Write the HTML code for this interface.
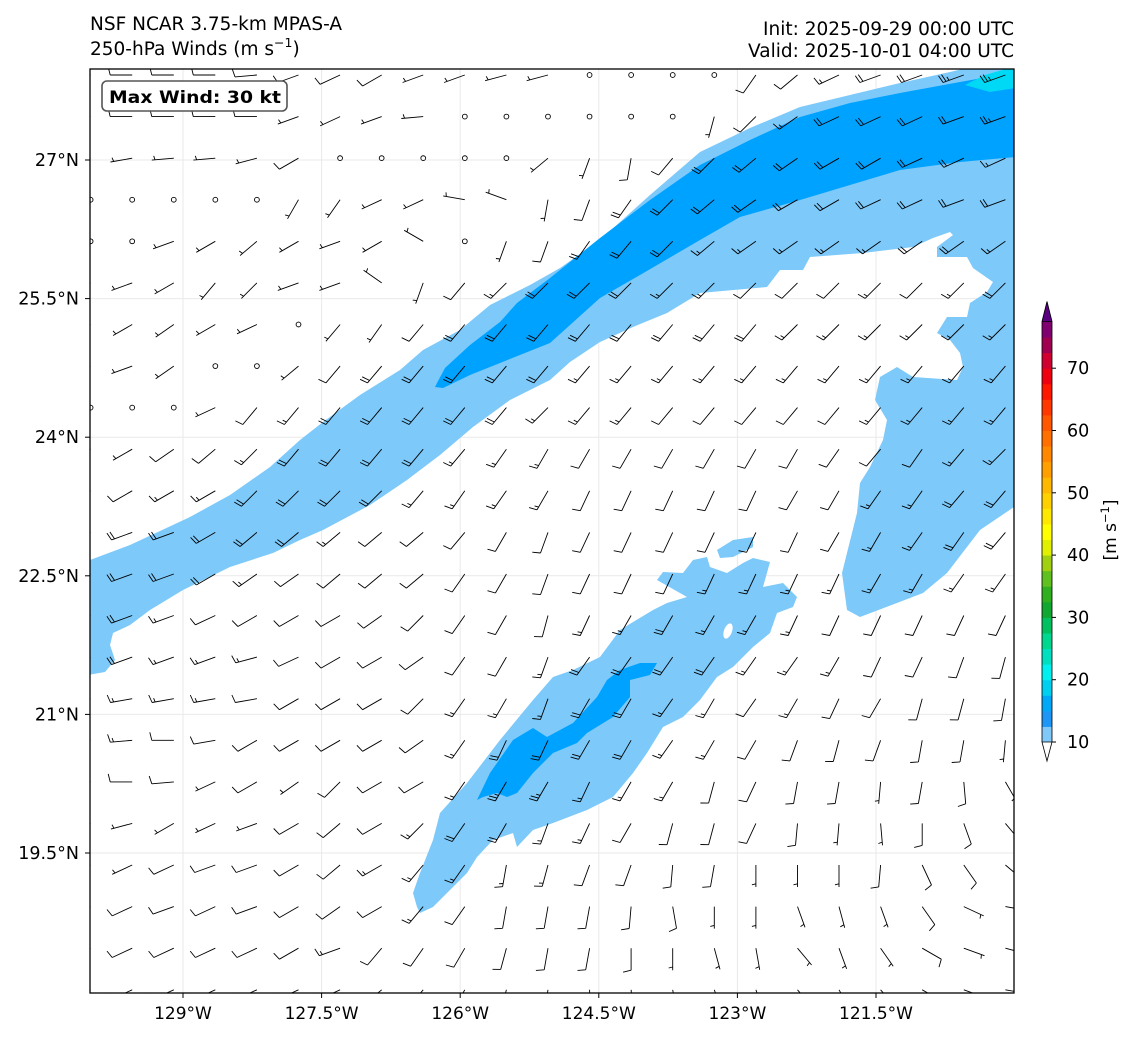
<!DOCTYPE html>
<html><head><meta charset="utf-8"><style>
html,body{margin:0;padding:0;background:#fff}
svg{display:block;font-family:"DejaVu Sans","Liberation Sans",sans-serif}
</style></head><body>
<svg id="fig" width="1137" height="1037" viewBox="0 0 1137 1037" xmlns="http://www.w3.org/2000/svg">
<defs><clipPath id="axclip"><rect x="90" y="69" width="924" height="924"/></clipPath></defs>
<rect x="0" y="0" width="1137" height="1037" fill="#fff"/>
<text x="90" y="30" font-size="18.5" fill="#000">NSF NCAR 3.75-km MPAS-A</text>
<text x="90" y="55" font-size="18.5" fill="#000">250-hPa Winds (m s<tspan font-size="12.5" dy="-8">−1</tspan><tspan dy="8">)</tspan></text>
<text x="1014" y="35" font-size="18.5" text-anchor="end">Init: 2025-09-29 00:00 UTC</text>
<text x="1014" y="57" font-size="18.5" text-anchor="end">Valid: 2025-10-01 04:00 UTC</text>
<g id="plot" clip-path="url(#axclip)">
 <g id="grid"></g>
 <path fill="#7cc9fa" d="M90,560 L130,545 L190,517 L230,495 L270,467 L300,440 L323,422 L360,395 L400,370 L423,350 L460,330 L490,305 L530,285 L560,268 L600,240 L650,195 L700,152 L750,128 L800,107 L850,95 L900,83 L950,72 L975,66 L1016,66 L1016,507 L1014,507 L980,530 L947,573 L923,593 L860,617 L847,610 L842,573 L847,553 L857,513 L860,483 L870,467 L883,440 L887,420 L875,400 L880,377 L897,367 L913,377 L957,380 L963,367 L960,353 L950,340 L937,333 L947,317 L967,317 L970,303 L987,292 L993,282 L973,268 L967,257 L937,257 L937,247 L953,235 L950,232 L933,238 L913,247 L863,253 L810,257 L803,270 L780,270 L767,287 L700,293 L667,313 L633,327 L600,342 L570,362 L550,380 L510,400 L473,427 L440,455 L407,480 L370,505 L323,530 L300,540 L273,553 L230,567 L183,590 L150,610 L130,625 L113,633 L110,645 L115,660 L105,672 L88,675 L88,560 Z"/>
 <path fill="#7cc9fa" d="M417,907 L413,893 L420,873 L433,840 L440,813 L467,783 L500,740 L533,700 L553,677 L573,670 L600,657 L620,630 L653,610 L667,603 L687,597 L657,580 L663,572 L683,573 L693,560 L707,557 L710,567 L727,573 L743,563 L753,558 L770,562 L763,587 L783,583 L797,597 L793,607 L777,613 L770,633 L753,647 L733,667 L717,677 L700,700 L683,717 L663,727 L647,753 L633,773 L613,797 L587,810 L553,823 L533,830 L517,847 L513,833 L493,840 L477,857 L467,873 L450,890 L433,907 L420,913 Z M717,550 L733,540 L753,537 L753,547 L733,557 L720,558 Z"/>
 <ellipse cx="728" cy="631" rx="4" ry="8" fill="#fff" transform="rotate(20 728 631)"/>
 <path fill="#00a2ff" d="M437,383 L445,368 L470,345 L500,322 L517,303 L550,278 L600,238 L650,200 L700,165 L750,140 L800,117 L850,103 L900,93 L960,82 L1016,72 L1016,157 L960,162 L900,170 L800,200 L740,217 L700,240 L640,275 L600,298 L570,325 L550,343 L500,363 L470,375 L443,388 L435,387 Z"/>
 <path fill="#00a2ff" d="M477,800 L490,773 L513,740 L533,728 L547,737 L573,723 L597,697 L607,680 L620,670 L640,663 L657,663 L650,675 L630,680 L630,697 L613,717 L587,733 L577,743 L553,753 L533,773 L517,793 L507,797 L497,793 L483,797 Z"/>
 <path fill="#00d9f5" d="M965,85 L985,75 L1016,66 L1016,88 L990,92 Z"/>
 <g id="barbs"></g>
</g>
<rect x="90" y="69" width="924" height="924" fill="none" stroke="#000" stroke-width="1.3"/>
<g id="axes"></g>
<g>
 <rect x="102" y="81" width="185" height="30" rx="5" fill="#fff" stroke="#555" stroke-width="1.6"/>
 <text x="109" y="103" font-size="17" font-weight="bold" textLength="172" lengthAdjust="spacingAndGlyphs">Max Wind: 30 kt</text>
</g>
<g id="cbar"></g>
<text transform="translate(1116,530) rotate(-90)" font-size="17" text-anchor="middle">[m s<tspan font-size="11.5" dy="-7">−1</tspan><tspan dy="7">]</tspan></text>
</svg>
<script>
// ---- axis data ----
const lonTicks = [-129, -127.5, -126, -124.5, -123, -121.5];
const lonLabels = ["129°W","127.5°W","126°W","124.5°W","123°W","121.5°W"];
const latTicks = [27, 25.5, 24, 22.5, 21, 19.5];
const latLabels = ["27°N","25.5°N","24°N","22.5°N","21°N","19.5°N"];
// barb grid
const barbLon0 = -130.0, barbLat0 = 27.92, barbStep = 0.45, nCols = 23, nRows = 23;
// wind direction (deg, from) per row
const dirRows = [
[270,270,270,270,265,250,245,240,250,250,255,255,0,0,0,0,215,230,245,250,250,250,250],
[270,270,270,270,270,250,245,250,265,0,0,0,0,0,0,195,225,235,245,245,245,250,250],
[260,260,265,265,255,240,0,0,0,0,0,230,200,190,220,225,230,235,240,240,245,245,245],
[0,0,0,0,0,210,215,245,245,280,290,190,200,215,225,230,235,240,240,245,245,250,250],
[0,0,250,240,230,240,250,240,300,0,200,200,215,220,225,230,235,235,235,235,235,235,235],
[250,250,240,220,225,250,250,305,200,220,225,225,225,225,225,225,225,225,225,225,225,225,225],
[240,240,235,240,245,0,220,215,220,220,220,220,220,220,220,220,220,225,225,225,225,225,225],
[250,250,235,0,0,230,220,220,220,220,220,220,220,220,220,220,220,220,220,220,220,220,220],
[0,0,0,245,220,220,220,220,220,220,220,225,220,220,220,220,220,220,220,220,220,220,220],
[240,240,235,230,225,220,220,220,220,220,215,210,210,210,210,210,210,210,215,220,215,220,225],
[240,240,240,240,225,225,225,225,220,215,215,210,205,205,205,205,205,210,210,215,215,220,220],
[250,250,250,240,230,230,230,230,230,220,210,200,205,205,205,205,205,205,210,210,215,215,220],
[250,250,250,240,235,235,230,230,230,215,210,200,205,205,205,205,205,205,205,210,210,215,215],
[250,250,250,245,240,240,240,235,225,215,210,195,205,210,210,210,210,205,205,205,205,205,205],
[250,250,250,250,255,245,240,240,235,215,210,200,215,215,215,215,215,215,210,205,205,200,195],
[260,260,260,260,260,240,240,240,225,215,210,200,210,210,215,210,215,210,205,210,195,195,190],
[265,265,270,260,240,240,240,240,235,215,205,205,210,210,215,210,210,200,195,200,190,190,185],
[270,270,265,245,240,235,225,240,240,215,210,210,205,210,210,195,205,190,190,185,190,175,150],
[255,255,240,245,250,240,230,240,225,215,210,200,205,210,195,195,205,185,185,175,180,160,140],
[245,245,245,250,250,240,230,240,220,215,190,195,200,200,185,190,180,180,180,185,155,145,130],
[245,245,250,245,250,240,235,240,220,215,190,190,190,185,170,180,180,160,165,160,145,115,100],
[245,245,245,245,245,240,250,220,215,210,195,190,190,180,180,165,170,140,160,145,120,110,105],
[245,245,245,245,245,245,245,230,220,210,195,190,180,175,170,160,160,140,150,140,120,110,100]
];
// wind speed (kt) per row
const spdRows = [
[10,10,10,10,10,10,10,10,5,5,5,5,0,0,0,0,10,10,15,20,20,25,25],
[10,10,10,10,10,5,5,5,5,0,0,0,0,0,0,5,10,15,20,20,20,20,25],
[5,5,5,5,5,10,0,0,0,0,0,5,5,10,10,20,20,20,20,20,20,20,15],
[0,0,0,0,0,5,5,5,5,5,5,5,10,20,20,20,20,20,20,20,20,20,20],
[0,0,5,5,5,5,5,5,5,0,5,10,20,20,20,15,15,15,15,15,20,20,15],
[5,5,5,5,5,5,5,5,5,10,15,20,20,20,15,15,10,10,10,15,10,15,20],
[5,5,5,5,5,0,5,5,10,20,20,20,20,20,20,20,20,15,15,15,15,15,15],
[5,5,5,0,0,5,10,20,20,20,20,20,15,15,15,15,15,15,15,15,15,15,15],
[0,0,0,5,10,15,20,20,20,20,20,15,15,15,10,10,10,10,10,15,15,15,15],
[5,5,10,10,15,20,20,20,20,15,15,15,10,10,10,10,10,10,10,10,10,15,15],
[10,10,15,15,20,20,20,20,15,15,15,15,10,10,10,10,10,10,10,15,15,20,20],
[20,20,20,20,20,20,15,10,10,10,10,10,10,10,10,10,10,10,10,15,15,20,20],
[20,20,20,20,15,10,10,10,10,10,10,10,10,10,10,15,15,15,15,15,15,15,15],
[20,20,15,10,10,10,10,10,10,10,10,10,15,15,20,15,15,15,10,10,10,10,10],
[20,20,15,15,15,10,10,10,10,10,10,15,20,20,20,20,15,15,15,10,10,10,10],
[15,15,15,15,10,10,10,10,10,15,15,15,20,20,15,15,10,15,10,10,10,10,10],
[15,15,10,10,10,10,10,10,10,15,20,20,20,20,15,15,10,10,10,10,10,10,5],
[10,10,10,5,10,5,10,10,10,15,25,25,15,15,15,10,10,10,10,5,10,10,5],
[5,5,5,5,5,10,10,10,15,20,20,15,15,10,10,10,10,10,5,5,10,10,10],
[5,5,10,10,10,10,10,15,15,15,15,15,10,10,10,10,5,5,5,10,10,10,5],
[10,10,10,10,10,10,10,10,15,10,10,10,10,10,10,5,5,5,5,5,10,5,5],
[10,10,10,10,10,10,15,10,10,10,10,10,10,10,5,5,5,5,5,5,10,5,5],
[10,10,10,10,10,10,10,10,10,10,5,5,5,5,5,5,5,5,5,5,5,5,5]
];
// colorbar data
const cbarLevels = [10,12.5,15,17.5,20,22.5,25,27.5,30,32.5,35,37.5,40,42.5,45,47.5,50,52.5,55,57.5,60,62.5,65,67.5,70,72.5,75,77.5];
const cbarColors = ["#80c8f8","#1e96f5","#00a8f8","#00d0f0","#00f0f0","#00e0c0","#00d890","#00c060","#10a830","#30b020","#60c020","#a0d010","#e0f000","#ffff00","#ffe800","#ffd000","#ffb800","#ffa000","#ff8800","#ff7000","#ff5800","#ff3800","#ff1800","#ee0010","#d00030","#a00050","#800070"];
const cbarTicks = [10,20,30,40,50,60,70];

const NS = "http://www.w3.org/2000/svg";
const PX = 92.4;
function xOf(lon){ return 183 + (lon + 129) * PX; }
function yOf(lat){ return 160 - (lat - 27) * PX; }
function cY(v){ return 742 - (v - 10) * 6.23; }
function mk(tag, attrs, parent){ const e = document.createElementNS(NS, tag); for (const k in attrs) e.setAttribute(k, attrs[k]); parent.appendChild(e); return e; }

const grid = document.getElementById('grid');
const axes = document.getElementById('axes');
lonTicks.forEach((lon, i) => {
  const x = xOf(lon);
  const g = mk('line', {x1:x, y1:69, x2:x, y2:993, stroke:'#e9e9e9', 'stroke-width':1}, grid);
  
  
  const t = mk('line', {x1:x, y1:993, x2:x, y2:998, stroke:'#000', 'stroke-width':1}, axes);
  
  
  const l = mk('text', {x:x, y:1019, 'font-size':17, 'text-anchor':'middle'}, axes);
  l.textContent = lonLabels[i];
  
  
});
latTicks.forEach((lat, i) => {
  const y = yOf(lat);
  const g = mk('line', {x1:90, y1:y, x2:1014, y2:y, stroke:'#e9e9e9', 'stroke-width':1}, grid);
  
  
  const t = mk('line', {x1:85, y1:y, x2:90, y2:y, stroke:'#000', 'stroke-width':1}, axes);
  
  
  const l = mk('text', {x:79, y:y + 6, 'font-size':17.5, 'text-anchor':'end'}, axes);
  l.textContent = latLabels[i];
  
  
});

const barbs = document.getElementById('barbs');
const L = 22, FL = 8, SP = 3.2;
for (let j = 0; j < nRows; j++) {
  for (let i = 0; i < nCols; i++) {
    const lon = barbLon0 + i * barbStep, lat = barbLat0 - j * barbStep;
    const px = xOf(lon), py = yOf(lat);
    const s = spdRows[j][i], th = dirRows[j][i] * Math.PI / 180;
    if (s < 2.5) {
      const c = mk('circle', {cx:px, cy:py, r:2.4, fill:'none', stroke:'#000', 'stroke-width':0.9}, barbs);
      
      
      continue;
    }
    const dx = Math.sin(th), dy = -Math.cos(th);
    const ex = px + L * dx, ey = py + L * dy;
    const nx = -dy, ny = dx;
    let d = `M${px.toFixed(1)},${py.toFixed(1)} L${ex.toFixed(1)},${ey.toFixed(1)}`;
    const full = Math.floor(s / 10), half = (s % 10) >= 5 ? 1 : 0;
    let pos = 0;
    for (let k = 0; k < full; k++) {
      const bx = ex - pos * dx, by = ey - pos * dy;
      d += ` M${bx.toFixed(1)},${by.toFixed(1)} L${(bx + FL * nx + 2 * dx).toFixed(1)},${(by + FL * ny + 2 * dy).toFixed(1)}`;
      pos += SP;
    }
    if (half) {
      if (full === 0) pos = SP;
      const bx = ex - pos * dx, by = ey - pos * dy;
      d += ` M${bx.toFixed(1)},${by.toFixed(1)} L${(bx + FL / 2 * nx + 1 * dx).toFixed(1)},${(by + FL / 2 * ny + 1 * dy).toFixed(1)}`;
    }
    const b = mk('path', {d:d, fill:'none', stroke:'#000', 'stroke-width':0.9}, barbs);
    
    
  }
}

const cb = document.getElementById('cbar');
const cx0 = 1042, cw = 10;
for (let k = 0; k < cbarColors.length; k++) {
  const y1 = cY(cbarLevels[k + 1]), y2 = cY(cbarLevels[k]);
  const r = mk('rect', {x:cx0, y:y1, width:cw, height:(y2 - y1 + 0.5), fill:cbarColors[k]}, cb);
  
  
}
const topY = cY(cbarLevels[cbarLevels.length - 1]), botY = cY(cbarLevels[0]);
const tri1 = mk('path', {d:`M${cx0},${topY} L${cx0 + cw / 2},${topY - 20} L${cx0 + cw},${topY} Z`, fill:'#5a0080', stroke:'#000', 'stroke-width':0.8}, cb);


const tri2 = mk('path', {d:`M${cx0},${botY} L${cx0 + cw / 2},${botY + 19} L${cx0 + cw},${botY} Z`, fill:'#fff', stroke:'#000', 'stroke-width':0.8}, cb);


const outline = mk('path', {d:`M${cx0},${botY} L${cx0},${topY} M${cx0 + cw},${topY} L${cx0 + cw},${botY}`, fill:'none', stroke:'#000', 'stroke-width':0.8}, cb);


cbarTicks.forEach(v => {
  const y = cY(v);
  const t = mk('line', {x1:cx0 + cw, y1:y, x2:cx0 + cw + 4, y2:y, stroke:'#000', 'stroke-width':1}, cb);
  
  
  const l = mk('text', {x:1067, y:y + 6, 'font-size':17.5}, cb);
  l.textContent = String(v);
  
  
});
</script>
</body></html>
